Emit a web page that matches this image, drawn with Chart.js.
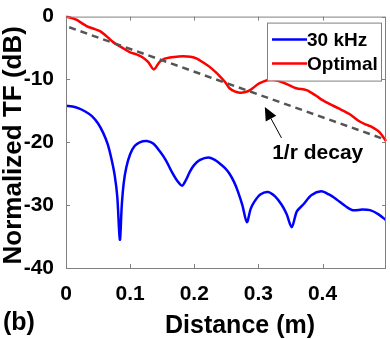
<!DOCTYPE html>
<html>

<head>
  <script src="https://cdn.jsdelivr.net/npm/chart.js@4/dist/chart.umd.min.js"></script>
  <style>
    body { margin: 0; background: #fff; }
  </style>
</head>

<body>
  <canvas id="chart" width="390" height="339"></canvas>
  <script>
    // values: distance (m) and normalized TF (dB)
    const khzDist = [0, 0.01, 0.02, 0.03, 0.04, 0.05, 0.058, 0.065, 0.071, 0.076, 0.080, 0.084, 0.087, 0.090, 0.094, 0.1, 0.107, 0.115, 0.126, 0.136, 0.146, 0.156, 0.165, 0.174, 0.181, 0.187, 0.193, 0.2, 0.209, 0.222, 0.232, 0.240, 0.248, 0.255, 0.262, 0.268, 0.275, 0.282, 0.288, 0.294, 0.303, 0.315, 0.326, 0.336, 0.344, 0.352, 0.36, 0.370, 0.383, 0.398, 0.41, 0.422, 0.435, 0.447, 0.462, 0.474, 0.488, 0.499];
    const khzTF = [-14.2, -14.3, -14.6, -15.1, -15.8, -17.0, -18.5, -20.3, -22.7, -25.3, -28.7, -35.5, -30.0, -26.5, -24.0, -21.9, -20.6, -20.0, -19.8, -20.2, -21.4, -22.9, -24.7, -26.2, -26.9, -26.0, -24.7, -23.6, -22.8, -22.4, -22.8, -23.4, -24.1, -25.0, -26.3, -27.8, -30.0, -32.7, -30.6, -29.4, -28.3, -27.9, -28.6, -29.9, -31.4, -33.5, -31.0, -29.9, -28.4, -27.8, -28.3, -29.1, -30.1, -30.8, -30.7, -30.8, -31.5, -32.4];

    const optDist = [0, 0.008, 0.016, 0.024, 0.032, 0.042, 0.053, 0.063, 0.074, 0.087, 0.1, 0.11, 0.118, 0.128, 0.137, 0.146, 0.154, 0.162, 0.172, 0.183, 0.194, 0.204, 0.214, 0.224, 0.233, 0.240, 0.248, 0.255, 0.263, 0.271, 0.28, 0.287, 0.302, 0.320, 0.341, 0.359, 0.375, 0.39, 0.4, 0.411, 0.425, 0.442, 0.458, 0.468, 0.476, 0.488, 0.499];
    const optTF = [0, -0.2, -0.5, -1.0, -1.5, -1.9, -2.3, -3.1, -4.1, -4.9, -5.7, -6.0, -6.4, -7.2, -8.4, -7.2, -6.7, -6.5, -6.4, -6.3, -6.4, -6.7, -7.3, -8.0, -8.8, -9.5, -10.4, -11.4, -11.9, -12.1, -12.0, -11.7, -10.6, -10.0, -10.6, -11.4, -11.7, -12.6, -13.3, -13.9, -14.6, -15.5, -16.7, -17.2, -17.5, -18.3, -19.8];

    const decayDist = [0.005, 0.499];
    const decayTF = [-1.7, -19.6];

    const xTicks = [0, 0.1, 0.2, 0.3, 0.4];
    const yTicks = [-40, -30, -20, -10, 0];

    const FONT = '"Liberation Sans", Arial, sans-serif';

    function pts(xs, ys) {
      return xs.map((x, i) => ({ x: x, y: ys[i] }));
    }

    // box, inward ticks, titles, legend and the 1/r annotation
    const decorations = {
      id: 'decorations',
      afterDatasetsDraw(chart) {
        const ctx = chart.ctx;
        const a = chart.chartArea;
        const xs = chart.scales.x;
        const ys = chart.scales.y;
        ctx.save();

        // axes box with matlab style ticks
        ctx.strokeStyle = '#808080';
        ctx.lineWidth = 1;
        ctx.strokeRect(a.left + 0.5, a.top + 0.5, a.right - a.left - 1, a.bottom - a.top);
        ctx.beginPath();
        xs.ticks.forEach(t => {
          const px = Math.round(xs.getPixelForValue(t.value)) + 0.5;
          ctx.moveTo(px, a.bottom); ctx.lineTo(px, a.bottom - 4);
          ctx.moveTo(px, a.top); ctx.lineTo(px, a.top + 4);
        });
        ys.ticks.forEach(t => {
          const py = Math.round(ys.getPixelForValue(t.value)) + 0.5;
          ctx.moveTo(a.left, py); ctx.lineTo(a.left + 4, py);
          ctx.moveTo(a.right, py); ctx.lineTo(a.right - 4, py);
        });
        ctx.stroke();

        // axis titles
        ctx.fillStyle = '#000';
        ctx.font = 'bold 25px ' + FONT;
        ctx.textAlign = 'center';
        ctx.textBaseline = 'alphabetic';
        ctx.fillText('Distance (m)', a.left + 174, 333);
        ctx.save();
        ctx.translate(21, (a.top + a.bottom) / 2 + 3);
        ctx.rotate(-Math.PI / 2);
        ctx.font = 'bold 26px ' + FONT;
        ctx.fillText('Normalized TF (dB)', 0, 0);
        ctx.restore();
        ctx.textAlign = 'left';
        ctx.fillText('(b)', 3, 330);

        // annotation
        const tipX = xs.getPixelForValue(0.31), tipY = ys.getPixelForValue(-14.4);
        const tailX = xs.getPixelForValue(0.336), tailY = ys.getPixelForValue(-19.3);
        const ang = Math.atan2(tipY - tailY, tipX - tailX);
        const hl = 13, hw = 6;
        const bx = tipX - hl * Math.cos(ang), by = tipY - hl * Math.sin(ang);
        ctx.strokeStyle = '#000';
        ctx.lineWidth = 1;
        ctx.beginPath();
        ctx.moveTo(tailX, tailY); ctx.lineTo(bx, by);
        ctx.stroke();
        ctx.beginPath();
        ctx.moveTo(tipX, tipY);
        ctx.lineTo(bx + hw * Math.sin(ang), by - hw * Math.cos(ang));
        ctx.lineTo(bx - hw * Math.sin(ang), by + hw * Math.cos(ang));
        ctx.closePath();
        ctx.fill();
        ctx.font = 'bold 21px ' + FONT;
        ctx.textAlign = 'center';
        ctx.fillText('1/r decay', xs.getPixelForValue(0.3925), ys.getPixelForValue(-22.7));

        // legend
        const items = chart.data.datasets.filter(d => d.label);
        const lx = a.right - 119, ly = a.top + 6, lw = 114, lh = 58;
        ctx.fillStyle = '#fff';
        ctx.fillRect(lx, ly, lw, lh);
        ctx.strokeStyle = '#808080';
        ctx.strokeRect(lx + 0.5, ly + 0.5, lw, lh);
        ctx.font = 'bold 19px ' + FONT;
        ctx.textAlign = 'left';
        ctx.textBaseline = 'middle';
        items.forEach((d, i) => {
          const y = ly + 17 + i * 24;
          ctx.strokeStyle = d.borderColor;
          ctx.lineWidth = 2.5;
          ctx.beginPath();
          ctx.moveTo(lx + 5, y); ctx.lineTo(lx + 40, y);
          ctx.stroke();
          ctx.fillStyle = '#000';
          ctx.fillText(d.label, lx + 40, y + 1);
        });
        ctx.restore();
      }
    };

    new Chart('chart', {
      type: 'line',
      data: {
        datasets: [{
          label: '30 kHz',
          data: pts(khzDist, khzTF),
          borderColor: '#0000ff',
          borderWidth: 2.5,
          tension: 0.3,
          pointRadius: 0,
          order: 2
        }, {
          label: 'Optimal',
          data: pts(optDist, optTF),
          borderColor: '#ff0000',
          borderWidth: 2.5,
          tension: 0.3,
          pointRadius: 0,
          clip: 4,
          order: 1
        }, {
          label: '',
          data: pts(decayDist, decayTF),
          borderColor: '#555555',
          borderWidth: 2.5,
          borderDash: [7, 5],
          pointRadius: 0,
          order: 0
        }]
      },
      options: {
        responsive: false,
        animation: false,
        layout: { padding: { top: 10, right: 4, left: 0, bottom: 0 } },
        plugins: { legend: { display: false }, tooltip: { enabled: false } },
        scales: {
          x: {
            type: 'linear',
            min: 0,
            max: 0.499,
            afterBuildTicks: s => { s.ticks = xTicks.map(v => ({ value: v })); },
            afterFit: s => { s.height = 71; },
            grid: { display: false },
            border: { display: false },
            ticks: {
              padding: 6,
              color: '#000',
              font: { family: FONT, size: 21, weight: 'bold' },
              maxRotation: 0,
              callback: v => String(v)
            }
          },
          y: {
            min: -40,
            max: 0,
            afterBuildTicks: s => { s.ticks = yTicks.map(v => ({ value: v })); },
            afterFit: s => { s.width = 66; },
            grid: { display: false },
            border: { display: false },
            ticks: {
              padding: 4,
              color: '#000',
              font: { family: FONT, size: 21, weight: 'bold' }
            }
          }
        }
      },
      plugins: [decorations]
    });
  </script>
</body>

</html>
